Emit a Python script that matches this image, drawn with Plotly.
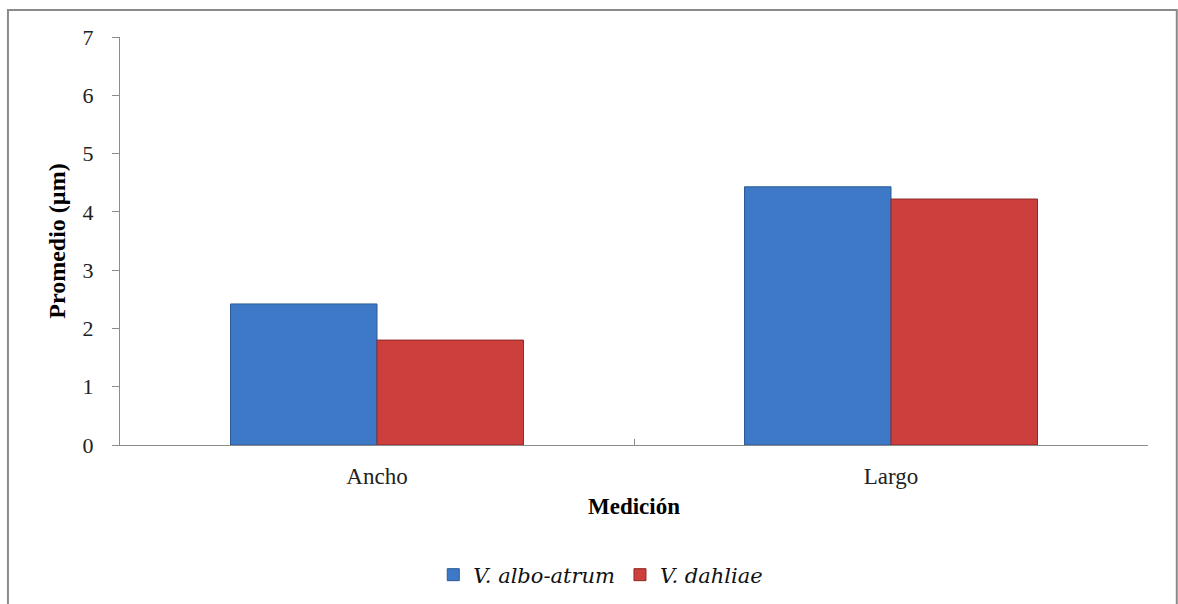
import plotly.graph_objects as go

# Mean spore dimensions (µm) per measurement and species
categories = ["Ancho", "Largo"]
albo_atrum = [2.42, 4.43]
dahliae = [1.80, 4.22]
series_names = ["<i>V. albo-atrum</i>", "<i>V. dahliae</i>"]
y_ticks = [0, 1, 2, 3, 4, 5, 6, 7]

SERIF = "Liberation Serif, Times New Roman, serif"
LEGEND_FONT = "DejaVu Serif, Liberation Serif, serif"

fig = go.Figure()
fig.add_trace(go.Bar(
    x=categories, y=albo_atrum, name=series_names[0],
    marker=dict(color="#3d79c6", line=dict(color="#2c5a96", width=1)),
))
fig.add_trace(go.Bar(
    x=categories, y=dahliae, name=series_names[1],
    marker=dict(color="#cc3f3d", line=dict(color="#8e2a28", width=1)),
))

fig.update_layout(
    width=1178, height=604,
    margin=dict(l=120, r=30, t=37, b=159),
    paper_bgcolor="white", plot_bgcolor="white",
    barmode="group", bargap=0.43, bargroupgap=0,
    font=dict(family=SERIF, color="#000000", size=20),
    showlegend=True,
    legend=dict(
        orientation="h", xref="container", yref="container",
        x=0.51, y=0.048, xanchor="center", yanchor="middle",
        font=dict(family=LEGEND_FONT, size=21, color="#111111"),
        itemwidth=30, traceorder="normal",
    ),
    xaxis=dict(
        showline=True, linecolor="#8c8c8c", linewidth=1,
        ticks="inside", ticklen=6, tickcolor="#8c8c8c", tickson="boundaries",
        tickfont=dict(family=SERIF, size=23, color="#222222"),
        ticklabelstandoff=10,
        title=dict(text="<b>Medición</b>", font=dict(family=SERIF, size=23), standoff=10),
        showgrid=False, zeroline=False,
    ),
    yaxis=dict(
        range=[0, 7], tickvals=y_ticks,
        showline=True, linecolor="#8c8c8c", linewidth=1,
        ticks="outside", ticklen=7, tickcolor="#8c8c8c",
        tickfont=dict(family=SERIF, size=22, color="#222222"),
        ticklabelstandoff=14,
        title=dict(text="<b>Promedio (µm)</b>", font=dict(family=SERIF, size=24), standoff=10),
        showgrid=False, zeroline=False,
    ),
    shapes=[dict(
        type="rect", xref="paper", yref="paper",
        x0=-0.109, x1=1.028, y0=-0.45, y1=1.066,
        line=dict(color="#8a8a8a", width=2), layer="below",
    )],
)

fig.write_html("out.html")
